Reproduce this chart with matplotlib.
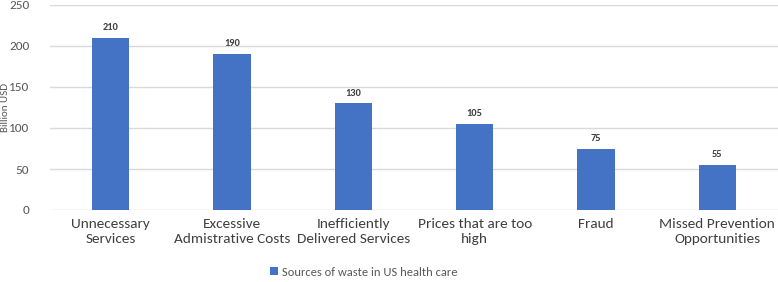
import numpy as np
import matplotlib.pyplot as plt

categories = ["Unnecessary\nServices", "Excessive\nAdmistrative Costs", "Inefficiently\nDelivered Services",
              "Prices that are too\nhigh", "Fraud", "Missed Prevention\nOpportunities"]
values = [210, 190, 130, 105, 75, 55]
series_name = "Sources of waste in US health care"

plt.rcParams['font.family'] = ['Carlito', 'DejaVu Sans']

fig = plt.figure(figsize=(7.78, 2.82), dpi=100)
ax = fig.add_axes([50/778, 1-210/282, 1-50/778, 205/282])

x = np.arange(len(categories))
bars = ax.bar(x, values, width=0.31, color="#4472C4", label=series_name, zorder=3)
for b, v in zip(bars, values):
    ax.text(b.get_x() + b.get_width()/2, v + 7, str(v), ha="center", va="bottom",
            fontsize=7.5, fontweight="bold", color="#404040")

ax.set_xlim(-0.5, len(categories) - 0.5)
ax.set_ylim(0, 250)
ax.set_yticks([0, 50, 100, 150, 200, 250])
ax.grid(axis="y", color="#d9d9d9", linewidth=1, zorder=0)
for s in ax.spines.values():
    s.set_visible(False)
ax.tick_params(axis="both", length=0, colors="#595959")
ax.tick_params(axis="y", pad=15, labelsize=9.5)
ax.set_xticks(x)
ax.set_xticklabels(categories, fontsize=11, color="#404040", linespacing=1.3)
ax.tick_params(axis="x", pad=6)
fig.text(6/778, 1-107/282, "Billion USD", rotation=90, ha="center", va="center",
         fontsize=8, color="#595959")

fig.legend(loc="center", bbox_to_anchor=(364/778, 1-272/282), frameon=False,
           fontsize=9, handlelength=0.6, handleheight=0.6, handletextpad=0.4,
           labelcolor="#595959")

fig.savefig("out.png", dpi=100)
